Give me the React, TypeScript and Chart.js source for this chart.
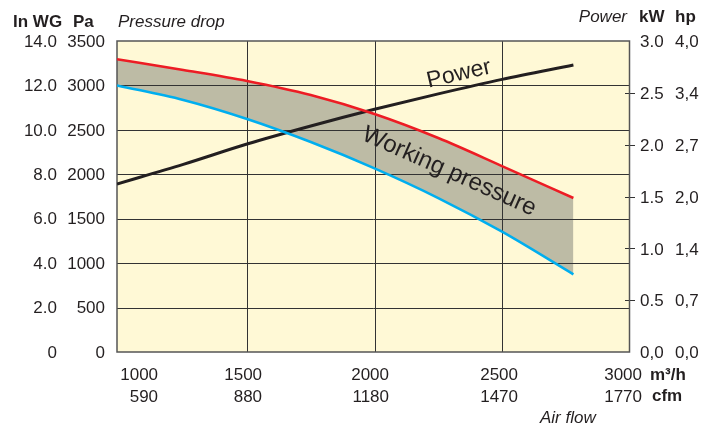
import React, { useEffect, useRef } from 'react';
import { Chart, registerables } from 'chart.js';

Chart.register(...registerables);

// ---- data ----
const airflow = [990, 1250, 1500, 1750, 2000, 2250, 2500, 2780];
const pressureMax = [3294, 3174, 3050, 2892, 2678, 2408, 2093, 1733];
const pressureMin = [3000, 2836, 2622, 2363, 2067, 1733, 1354, 874];
const powerKw = [1.62, 1.81, 2.006, 2.18, 2.341, 2.49, 2.63, 2.768];

const xTicks = [1000, 1500, 2000, 2500, 3000];
const m3hLabels = ['1000', '1500', '2000', '2500', '3000'];
const cfmLabels = ['590', '880', '1180', '1470', '1770'];
const paTicks = [0, 500, 1000, 1500, 2000, 2500, 3000, 3500];
const inwgLabels = ['0', '2.0', '4.0', '6.0', '8.0', '10.0', '12.0', '14.0'];
const kwTicks = [0, 0.5, 1, 1.5, 2, 2.5, 3];
const kwLabels = ['0,0', '0.5', '1.0', '1.5', '2.0', '2.5', '3.0'];
const hpLabels = ['0,0', '0,7', '1,4', '2,0', '2,7', '3,4', '4,0'];

// annotation anchors in data units
const powerLabelAt = { x: 2331, y: 2.68 };
const workingLabelAt = { x: 2293, y: 2030 };

// ---- styles ----
const FONT = '"Liberation Sans", Arial, Helvetica, sans-serif';
const TEXT = '#231F20';
const PLOT_BG = '#FFF9D6';
const BAND = '#BDBBA5';
const GRID = '#333333';
const xLabelShift = [38.5, 15, 14.5, 16, 12.5];

const plotBackground = {
  id: 'plotBackground',
  beforeDraw(chart: any) {
    const { ctx, chartArea: a } = chart;
    if (!a) return;
    ctx.save();
    ctx.fillStyle = PLOT_BG;
    ctx.fillRect(a.left, a.top, a.right - a.left, a.bottom - a.top);
    ctx.restore();
  },
};

// grid + frame drawn after the band fill, before the lines
const gridOverFill = {
  id: 'gridOverFill',
  beforeDatasetsDraw(chart: any) {
    const { ctx, chartArea: a } = chart;
    const xs = chart.scales.x;
    const pa = chart.scales.pa;
    const kw = chart.scales.kw;
    ctx.save();
    ctx.strokeStyle = GRID;
    ctx.lineWidth = 1;
    xs.ticks.forEach((t: any) => {
      if (t.value <= xs.min + 20 || t.value >= xs.max) return;
      const x = Math.round(xs.getPixelForValue(t.value)) + 0.5;
      ctx.beginPath();
      ctx.moveTo(x, a.top);
      ctx.lineTo(x, a.bottom);
      ctx.stroke();
    });
    pa.ticks.forEach((t: any) => {
      if (t.value <= pa.min || t.value >= pa.max) return;
      const y = Math.round(pa.getPixelForValue(t.value)) + 0.5;
      ctx.beginPath();
      ctx.moveTo(a.left, y);
      ctx.lineTo(a.right, y);
      ctx.stroke();
    });
    // kW tick marks crossing the right border
    kw.ticks.forEach((t: any) => {
      if (t.value <= kw.min || t.value >= kw.max) return;
      const y = Math.round(kw.getPixelForValue(t.value)) + 0.5;
      ctx.beginPath();
      ctx.moveTo(a.right - 4.5, y);
      ctx.lineTo(a.right + 5.5, y);
      ctx.stroke();
    });
    ctx.strokeStyle = '#555555';
    ctx.lineWidth = 1.5;
    ctx.strokeRect(a.left, a.top, a.right - a.left, a.bottom - a.top);
    ctx.restore();
  },
};

const texts = {
  id: 'texts',
  afterDraw(chart: any) {
    const { ctx, chartArea: a } = chart;
    const xs = chart.scales.x;
    ctx.save();
    ctx.fillStyle = TEXT;
    ctx.font = `17px ${FONT}`;
    ctx.textAlign = 'right';
    ctx.textBaseline = 'alphabetic';
    xTicks.forEach((v, i) => {
      const px = xs.getPixelForValue(v) + xLabelShift[i];
      ctx.fillText(m3hLabels[i], px, a.bottom + 28);
      ctx.fillText(cfmLabels[i], px, a.bottom + 50);
    });
    ctx.textAlign = 'left';
    ctx.font = `bold 17px ${FONT}`;
    ctx.fillText('m³/h', 650, a.bottom + 28);
    ctx.fillText('cfm', 652, a.bottom + 49);
    ctx.font = `italic 17px ${FONT}`;
    ctx.fillText('Air flow', 540, a.bottom + 71);

    ctx.font = `bold 17px ${FONT}`;
    ctx.fillText('In WG', 13, 27);
    ctx.fillText('Pa', 73, 27);
    ctx.fillText('kW', 639, 22);
    ctx.fillText('hp', 675, 22);
    ctx.font = `italic 17px ${FONT}`;
    ctx.fillText('Pressure drop', 118, 27);
    ctx.textAlign = 'right';
    ctx.fillText('Power', 627, 22);
    ctx.restore();
  },
  afterDatasetsDraw(chart: any) {
    const { ctx } = chart;
    const xs = chart.scales.x;
    const put = (text: string, x: number, y: number, deg: number, size: number) => {
      ctx.save();
      ctx.fillStyle = TEXT;
      ctx.textAlign = 'center';
      ctx.textBaseline = 'middle';
      ctx.font = `${size}px ${FONT}`;
      ctx.translate(x, y);
      ctx.rotate((deg * Math.PI) / 180);
      ctx.fillText(text, 0, 0);
      ctx.restore();
    };
    put('Power', xs.getPixelForValue(powerLabelAt.x), chart.scales.kw.getPixelForValue(powerLabelAt.y), -13, 23);
    put(
      'Working pressure',
      xs.getPixelForValue(workingLabelAt.x),
      chart.scales.pa.getPixelForValue(workingLabelAt.y),
      24,
      24
    );
  },
};

export default function App() {
  const ref = useRef<HTMLCanvasElement | null>(null);
  useEffect(() => {
    if (!ref.current) return;
    const tickFont = { family: FONT, size: 17 };
    const chart = new Chart(ref.current, {
      type: 'line',
      data: {
        datasets: [
          {
            label: 'Max pressure',
            data: airflow.map((x, i) => ({ x, y: pressureMax[i] })),
            borderColor: '#ED1C24',
            borderWidth: 2.5,
            pointRadius: 0,
            cubicInterpolationMode: 'monotone',
            yAxisID: 'pa',
            fill: false,
          },
          {
            label: 'Min pressure',
            data: airflow.map((x, i) => ({ x, y: pressureMin[i] })),
            borderColor: '#00AEEF',
            borderWidth: 2.5,
            pointRadius: 0,
            cubicInterpolationMode: 'monotone',
            yAxisID: 'pa',
            fill: '-1',
            backgroundColor: BAND,
          },
          {
            label: 'Power',
            data: airflow.map((x, i) => ({ x, y: powerKw[i] })),
            borderColor: TEXT,
            borderWidth: 3,
            pointRadius: 0,
            cubicInterpolationMode: 'monotone',
            yAxisID: 'kw',
            fill: false,
          },
        ],
      } as any,
      options: {
        animation: false,
        responsive: false,
        layout: { padding: { top: 41, left: 0, right: 0, bottom: 0 } },
        plugins: {
          legend: { display: false },
          tooltip: { enabled: false },
          filler: { drawTime: 'beforeDatasetsDraw' },
        } as any,
        scales: {
          x: {
            type: 'linear',
            position: 'bottom',
            min: 990,
            max: 3000,
            afterBuildTicks: (s: any) => {
              s.ticks = xTicks.map((v) => ({ value: v }));
            },
            afterFit: (s: any) => {
              s.height = 80;
            },
            ticks: { display: false },
            border: { display: false },
            grid: { display: false, drawTicks: false },
          },
          pa: {
            type: 'linear',
            position: 'left',
            weight: 1,
            min: 0,
            max: 3500,
            afterBuildTicks: (s: any) => {
              s.ticks = paTicks.map((v) => ({ value: v }));
            },
            afterFit: (s: any) => {
              s.width = 57;
            },
            ticks: { font: tickFont, color: TEXT, padding: 12, labelOffset: 1, callback: (v: any) => String(v) },
            border: { display: false },
            grid: { display: false, drawTicks: false },
          },
          wg: {
            type: 'linear',
            position: 'left',
            weight: 2,
            min: 0,
            max: 14,
            afterBuildTicks: (s: any) => {
              s.ticks = inwgLabels.map((_, i) => ({ value: i * 2 }));
            },
            afterFit: (s: any) => {
              s.width = 60;
            },
            ticks: {
              font: tickFont,
              color: TEXT,
              padding: 3,
              labelOffset: 1,
              callback: (_v: any, i: number) => inwgLabels[i],
            },
            border: { display: false },
            grid: { display: false, drawTicks: false },
          },
          kw: {
            type: 'linear',
            position: 'right',
            weight: 1,
            min: 0,
            max: 3,
            afterBuildTicks: (s: any) => {
              s.ticks = kwTicks.map((v) => ({ value: v }));
            },
            afterFit: (s: any) => {
              s.width = 42.5;
            },
            ticks: {
              font: tickFont,
              color: TEXT,
              padding: 10.5,
              labelOffset: 1.5,
              callback: (_v: any, i: number) => kwLabels[i],
            },
            border: { display: false },
            grid: { display: false, drawTicks: false },
          },
          hp: {
            type: 'linear',
            position: 'right',
            weight: 2,
            min: 0,
            max: 3,
            afterBuildTicks: (s: any) => {
              s.ticks = kwTicks.map((v) => ({ value: v }));
            },
            afterFit: (s: any) => {
              s.width = 45;
            },
            ticks: {
              font: tickFont,
              color: TEXT,
              padding: 3,
              labelOffset: 1.5,
              callback: (_v: any, i: number) => hpLabels[i],
            },
            border: { display: false },
            grid: { display: false, drawTicks: false },
          },
        },
      } as any,
      plugins: [plotBackground, gridOverFill, texts],
    });
    return () => chart.destroy();
  }, []);
  return (
    <div style={{ position: 'absolute', left: 0, top: 0, width: 717, height: 432, background: '#fff' }}>
      <canvas ref={ref} width={717} height={432} style={{ display: 'block' }} />
    </div>
  );
}
